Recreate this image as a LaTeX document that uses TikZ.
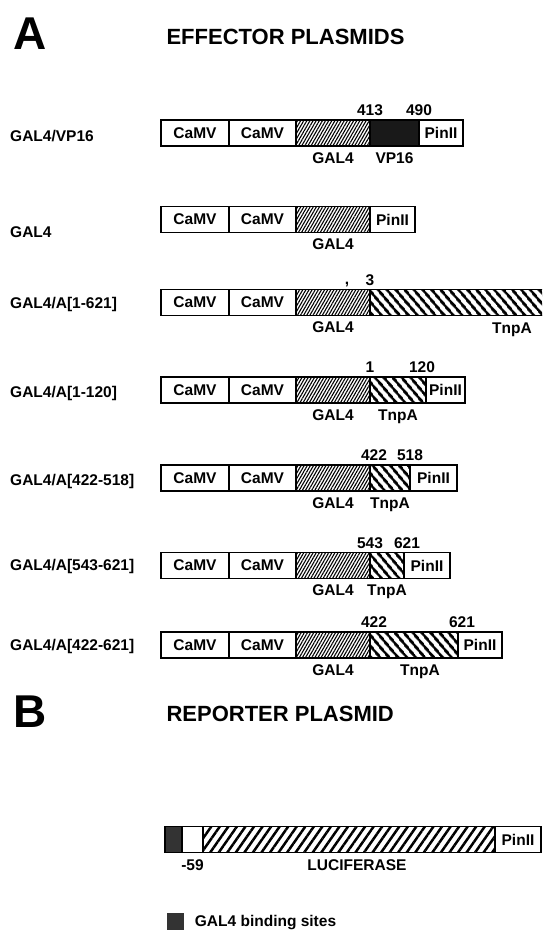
\documentclass[tikz,border=0pt]{standalone}
\usepackage{fontspec}
\setmainfont{Liberation Sans}
\usetikzlibrary{positioning,patterns.meta}
\newcommand{\lblfont}{\bfseries\fontsize{15.5}{16}\selectfont}
\tikzset{
  seg/.style={draw,line width=1.8pt,minimum height=26pt,inner sep=0pt,outer sep=0pt,font=\lblfont},
  camv/.style={seg,minimum width=68pt},
  galseg/.style={seg,minimum width=74pt,pattern={Lines[angle=60,distance=2.7pt,line width=1.1pt]}},
  tnpseg/.style={seg,pattern={Lines[angle=-50,distance=6.5pt,line width=2.8pt]}},
  lucseg/.style={seg,pattern={Lines[angle=55,distance=7pt,line width=2.5pt]}},
  lbl/.style={font=\lblfont,inner sep=1pt,text height=11pt,text depth=0pt},
  rowname/.style={lbl,anchor=west},
  heading/.style={font=\bfseries\fontsize{22}{24}\selectfont,anchor=west},
  panel/.style={font=\bfseries\fontsize{46}{46}\selectfont},
}

\begin{document}
\begin{tikzpicture}[x=1pt,y=-1pt]
  \path[use as bounding box,clip] (0,0) rectangle (542,933);

  \node[panel] (pa) at (30,34) {A};
  \node[heading] (ha) at (163,37) {EFFECTOR PLASMIDS};

  \node[rowname] (r1) at (9,136) {GAL4/VP16};
  \node[camv,anchor=west] (r1a) at (161,133) {CaMV};
  \node[camv,minimum width=67pt,right=0pt of r1a] (r1b) {CaMV};
  \node[galseg,right=0pt of r1b] (r1g) {};
  \node[seg,fill=black!90,minimum width=49pt,right=0pt of r1g] (r1v) {};
  \node[seg,minimum width=44pt,right=0pt of r1v] (r1p) {PinII};
  \node[lbl,above=3pt of r1g.north east] (r1n1) {413};
  \node[lbl,above=3pt of r1v.north east] (r1n2) {490};
  \node[lbl,below=5pt of r1g] (r1l1) {GAL4};
  \node[lbl,below=5pt of r1v] (r1l2) {VP16};

  \node[rowname] (r2) at (9,232) {GAL4};
  \node[camv,anchor=west] (r2a) at (161,219.5) {CaMV};
  \node[camv,minimum width=67pt,right=0pt of r2a] (r2b) {CaMV};
  \node[galseg,right=0pt of r2b] (r2g) {};
  \node[seg,minimum width=45pt,right=0pt of r2g] (r2p) {PinII};
  \node[lbl,below=5pt of r2g] (r2l1) {GAL4};

  \node[rowname] (r3) at (9,303) {GAL4/A[1-621]};
  \node[camv,anchor=west] (r3a) at (161,302.5) {CaMV};
  \node[camv,minimum width=67pt,right=0pt of r3a] (r3b) {CaMV};
  \node[galseg,right=0pt of r3b] (r3g) {};
  \node[tnpseg,minimum width=200pt,right=0pt of r3g] (r3t) {};
  \node[lbl] (r3c) at (347,279) {,};
  \node[lbl,above=3pt of r3g.north east] (r3n1) {3};
  \node[lbl,below=5pt of r3g] (r3l1) {GAL4};
  \node[lbl,anchor=west] (r3l2) at (491,328) {TnpA};

  \node[rowname] (r4) at (9,392) {GAL4/A[1-120]};
  \node[camv,anchor=west] (r4a) at (161,390) {CaMV};
  \node[camv,minimum width=67pt,right=0pt of r4a] (r4b) {CaMV};
  \node[galseg,right=0pt of r4b] (r4g) {};
  \node[tnpseg,minimum width=56pt,right=0pt of r4g] (r4t) {};
  \node[seg,minimum width=39pt,right=0pt of r4t] (r4p) {PinII};
  \node[lbl,above=3pt of r4g.north east] (r4n1) {1};
  \node[lbl,above=3pt of r4t.north east,xshift=-4pt] (r4n2) {120};
  \node[lbl,below=5pt of r4g] (r4l1) {GAL4};
  \node[lbl,below=5pt of r4t] (r4l2) {TnpA};

  \node[rowname] (r5) at (9,480) {GAL4/A[422-518]};
  \node[camv,anchor=west] (r5a) at (161,478) {CaMV};
  \node[camv,minimum width=67pt,right=0pt of r5a] (r5b) {CaMV};
  \node[galseg,right=0pt of r5b] (r5g) {};
  \node[tnpseg,minimum width=40pt,right=0pt of r5g] (r5t) {};
  \node[seg,minimum width=47pt,right=0pt of r5t] (r5p) {PinII};
  \node[lbl,above=3pt of r5g.north east,xshift=4pt] (r5n1) {422};
  \node[lbl,above=3pt of r5t.north east] (r5n2) {518};
  \node[lbl,below=5pt of r5g] (r5l1) {GAL4};
  \node[lbl,below=5pt of r5t] (r5l2) {TnpA};

  \node[rowname] (r6) at (9,565) {GAL4/A[543-621]};
  \node[camv,anchor=west] (r6a) at (161,565.5) {CaMV};
  \node[camv,minimum width=67pt,right=0pt of r6a] (r6b) {CaMV};
  \node[galseg,right=0pt of r6b] (r6g) {};
  \node[tnpseg,minimum width=34pt,right=0pt of r6g] (r6t) {};
  \node[seg,minimum width=46pt,right=0pt of r6t] (r6p) {PinII};
  \node[lbl,above=3pt of r6g.north east] (r6n1) {543};
  \node[lbl,above=3pt of r6t.north east,xshift=3pt] (r6n2) {621};
  \node[lbl,below=5pt of r6g] (r6l1) {GAL4};
  \node[lbl,below=5pt of r6t] (r6l2) {TnpA};

  \node[rowname] (r7) at (9,645) {GAL4/A[422-621]};
  \node[camv,anchor=west] (r7a) at (161,645) {CaMV};
  \node[camv,minimum width=67pt,right=0pt of r7a] (r7b) {CaMV};
  \node[galseg,right=0pt of r7b] (r7g) {};
  \node[tnpseg,minimum width=88pt,right=0pt of r7g] (r7t) {};
  \node[seg,minimum width=44pt,right=0pt of r7t] (r7p) {PinII};
  \node[lbl,above=3pt of r7g.north east,xshift=4pt] (r7n1) {422};
  \node[lbl,above=3pt of r7t.north east,xshift=4pt] (r7n2) {621};
  \node[lbl,below=5pt of r7g] (r7l1) {GAL4};
  \node[lbl,below=5pt of r7t,xshift=6pt] (r7l2) {TnpA};

  \node[panel] (pb) at (30,712) {B};
  \node[heading] (hb) at (163,714) {REPORTER PLASMID};

  \node[seg,fill=black!80,minimum width=17pt,anchor=west] (rb) at (165,839.5) {};
  \node[seg,minimum width=21pt,right=0pt of rb] (rw) {};
  \node[lucseg,minimum width=292pt,right=0pt of rw] (rl) {};
  \node[seg,minimum width=46pt,right=0pt of rl] (rp) {PinII};
  \node[lbl,below=6pt of rw] (rn) {-59};
  \node[lbl,below=6pt of rl,xshift=8pt] (rll) {LUCIFERASE};

  \node[fill=black!80,minimum size=17pt,inner sep=0pt] (key) at (175,921) {};
  \node[lbl,right=10pt of key] (keyl) {GAL4 binding sites};
\end{tikzpicture}
\end{document}
